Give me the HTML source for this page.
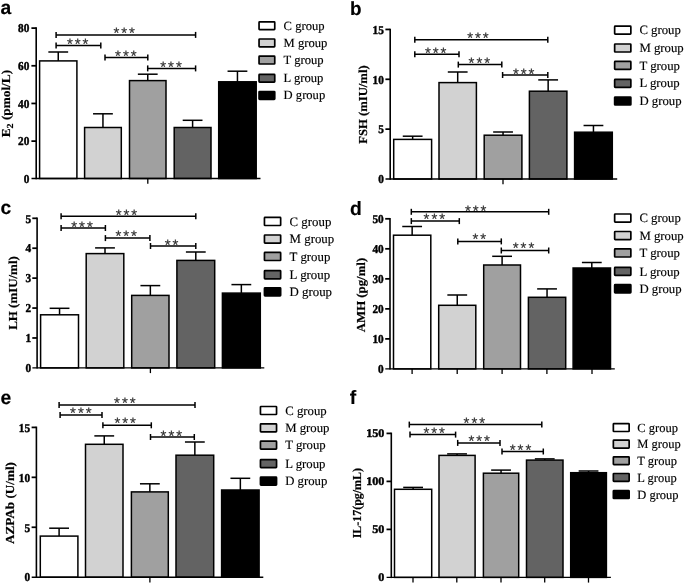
<!DOCTYPE html>
<html lang="en">
<head>
<meta charset="utf-8">
<title>Figure</title>
<style>
html,body{margin:0;padding:0;background:#fff;}
body{width:685px;height:584px;overflow:hidden;}
svg{display:block;}
</style>
</head>
<body>
<svg width="685" height="584" viewBox="0 0 685 584" text-rendering="geometricPrecision">
<rect width="685" height="584" fill="#fff"/>
<g id="panel-a">
<text x="0.5" y="14.0" font-family='"Liberation Sans", "DejaVu Sans", sans-serif' font-weight="bold" font-size="19.3" fill="#000" stroke="#000" stroke-width="0.15">a</text>
<line x1="58.25" y1="52.00" x2="58.25" y2="60.90" stroke="#000" stroke-width="1.5"/>
<line x1="48.35" y1="52.00" x2="68.15" y2="52.00" stroke="#000" stroke-width="1.5"/>
<rect x="39.60" y="60.90" width="37.30" height="117.60" fill="#ffffff" stroke="#000" stroke-width="1.5"/>
<line x1="102.95" y1="113.80" x2="102.95" y2="127.50" stroke="#000" stroke-width="1.5"/>
<line x1="93.05" y1="113.80" x2="112.85" y2="113.80" stroke="#000" stroke-width="1.5"/>
<rect x="84.60" y="127.50" width="36.70" height="51.00" fill="#d2d2d2" stroke="#000" stroke-width="1.5"/>
<line x1="147.75" y1="74.20" x2="147.75" y2="80.60" stroke="#000" stroke-width="1.5"/>
<line x1="137.85" y1="74.20" x2="157.65" y2="74.20" stroke="#000" stroke-width="1.5"/>
<rect x="129.50" y="80.60" width="36.50" height="97.90" fill="#a0a0a0" stroke="#000" stroke-width="1.5"/>
<line x1="192.60" y1="120.30" x2="192.60" y2="127.50" stroke="#000" stroke-width="1.5"/>
<line x1="182.70" y1="120.30" x2="202.50" y2="120.30" stroke="#000" stroke-width="1.5"/>
<rect x="174.20" y="127.50" width="36.80" height="51.00" fill="#636363" stroke="#000" stroke-width="1.5"/>
<line x1="237.45" y1="71.20" x2="237.45" y2="81.80" stroke="#000" stroke-width="1.5"/>
<line x1="227.55" y1="71.20" x2="247.35" y2="71.20" stroke="#000" stroke-width="1.5"/>
<rect x="218.70" y="81.80" width="37.50" height="96.70" fill="#000000" stroke="#000" stroke-width="1.5"/>
<line x1="36.20" y1="27.30" x2="36.20" y2="179.20" stroke="#000" stroke-width="1.6"/>
<line x1="31.50" y1="178.50" x2="260.50" y2="178.50" stroke="#000" stroke-width="1.4"/>
<text transform="translate(29.30,183.06) scale(0.94,1)" text-anchor="end" font-family='"Liberation Serif", "DejaVu Serif", serif' font-weight="bold" font-size="12.0" fill="#000" stroke="#000" stroke-width="0.42">0</text>
<line x1="31.40" y1="141.12" x2="36.20" y2="141.12" stroke="#000" stroke-width="1.75"/>
<text transform="translate(29.30,145.39) scale(0.94,1)" text-anchor="end" font-family='"Liberation Serif", "DejaVu Serif", serif' font-weight="bold" font-size="12.0" fill="#000" stroke="#000" stroke-width="0.42">20</text>
<line x1="31.40" y1="103.45" x2="36.20" y2="103.45" stroke="#000" stroke-width="1.75"/>
<text transform="translate(29.30,107.71) scale(0.94,1)" text-anchor="end" font-family='"Liberation Serif", "DejaVu Serif", serif' font-weight="bold" font-size="12.0" fill="#000" stroke="#000" stroke-width="0.42">40</text>
<line x1="31.40" y1="65.78" x2="36.20" y2="65.78" stroke="#000" stroke-width="1.75"/>
<text transform="translate(29.30,70.03) scale(0.94,1)" text-anchor="end" font-family='"Liberation Serif", "DejaVu Serif", serif' font-weight="bold" font-size="12.0" fill="#000" stroke="#000" stroke-width="0.42">60</text>
<line x1="31.40" y1="28.10" x2="36.20" y2="28.10" stroke="#000" stroke-width="1.75"/>
<text transform="translate(29.30,32.36) scale(0.94,1)" text-anchor="end" font-family='"Liberation Serif", "DejaVu Serif", serif' font-weight="bold" font-size="12.0" fill="#000" stroke="#000" stroke-width="0.42">80</text>
<line x1="147.80" y1="178.50" x2="147.80" y2="183.70" stroke="#000" stroke-width="1.3"/>
<text transform="translate(10.1,103.6) rotate(-90) scale(1.09,1)" text-anchor="middle" font-family='"Liberation Serif", "DejaVu Serif", serif' font-weight="bold" font-size="12.2" fill="#000" stroke="#000" stroke-width="0.2">E<tspan baseline-shift="-3" font-size="9.2">2</tspan> (pmol/L)</text>
<line x1="56.10" y1="34.90" x2="195.60" y2="34.90" stroke="#000" stroke-width="1.5"/>
<line x1="56.10" y1="31.90" x2="56.10" y2="37.90" stroke="#000" stroke-width="1.5"/>
<line x1="195.60" y1="31.90" x2="195.60" y2="37.90" stroke="#000" stroke-width="1.5"/>
<text x="125.20" y="37.65" text-anchor="middle" font-family='"Liberation Sans", "DejaVu Sans", sans-serif' font-size="15" letter-spacing="1.95" fill="#333" stroke="#333" stroke-width="0.22">***</text>
<line x1="56.10" y1="45.40" x2="100.80" y2="45.40" stroke="#000" stroke-width="1.5"/>
<line x1="56.10" y1="42.40" x2="56.10" y2="48.40" stroke="#000" stroke-width="1.5"/>
<line x1="100.80" y1="42.40" x2="100.80" y2="48.40" stroke="#000" stroke-width="1.5"/>
<text x="78.70" y="48.90" text-anchor="middle" font-family='"Liberation Sans", "DejaVu Sans", sans-serif' font-size="15" letter-spacing="1.95" fill="#333" stroke="#333" stroke-width="0.22">***</text>
<line x1="105.00" y1="57.50" x2="147.80" y2="57.50" stroke="#000" stroke-width="1.5"/>
<line x1="105.00" y1="54.50" x2="105.00" y2="60.50" stroke="#000" stroke-width="1.5"/>
<line x1="147.80" y1="54.50" x2="147.80" y2="60.50" stroke="#000" stroke-width="1.5"/>
<text x="126.80" y="60.65" text-anchor="middle" font-family='"Liberation Sans", "DejaVu Sans", sans-serif' font-size="15" letter-spacing="1.95" fill="#333" stroke="#333" stroke-width="0.22">***</text>
<line x1="147.70" y1="68.40" x2="195.60" y2="68.40" stroke="#000" stroke-width="1.5"/>
<line x1="147.70" y1="65.40" x2="147.70" y2="71.40" stroke="#000" stroke-width="1.5"/>
<line x1="195.60" y1="65.40" x2="195.60" y2="71.40" stroke="#000" stroke-width="1.5"/>
<text x="172.00" y="71.75" text-anchor="middle" font-family='"Liberation Sans", "DejaVu Sans", sans-serif' font-size="15" letter-spacing="1.95" fill="#333" stroke="#333" stroke-width="0.22">***</text>
<rect x="259.05" y="21.80" width="15.70" height="7.80" rx="0.6" fill="#ffffff" stroke="#000" stroke-width="1.7"/>
<text x="283.60" y="29.70" font-family='"Liberation Serif", "DejaVu Serif", serif' font-size="12.6" fill="#000" stroke="#000" stroke-width="0.15">C group</text>
<rect x="259.05" y="39.00" width="15.70" height="7.80" rx="0.6" fill="#d2d2d2" stroke="#000" stroke-width="1.7"/>
<text x="283.60" y="46.90" font-family='"Liberation Serif", "DejaVu Serif", serif' font-size="12.6" fill="#000" stroke="#000" stroke-width="0.15">M group</text>
<rect x="259.05" y="56.20" width="15.70" height="7.80" rx="0.6" fill="#a0a0a0" stroke="#000" stroke-width="1.7"/>
<text x="283.60" y="64.10" font-family='"Liberation Serif", "DejaVu Serif", serif' font-size="12.6" fill="#000" stroke="#000" stroke-width="0.15">T group</text>
<rect x="259.05" y="74.40" width="15.70" height="7.80" rx="0.6" fill="#636363" stroke="#000" stroke-width="1.7"/>
<text x="283.60" y="82.30" font-family='"Liberation Serif", "DejaVu Serif", serif' font-size="12.6" fill="#000" stroke="#000" stroke-width="0.15">L group</text>
<rect x="259.05" y="91.50" width="15.70" height="7.80" rx="0.6" fill="#000000" stroke="#000" stroke-width="1.7"/>
<text x="283.60" y="99.40" font-family='"Liberation Serif", "DejaVu Serif", serif' font-size="12.6" fill="#000" stroke="#000" stroke-width="0.15">D group</text>
</g>
<g id="panel-b">
<text x="350.0" y="14.7" font-family='"Liberation Sans", "DejaVu Sans", sans-serif' font-weight="bold" font-size="18.9" fill="#000" stroke="#000" stroke-width="0.15">b</text>
<line x1="412.65" y1="136.20" x2="412.65" y2="139.40" stroke="#000" stroke-width="1.5"/>
<line x1="402.75" y1="136.20" x2="422.55" y2="136.20" stroke="#000" stroke-width="1.5"/>
<rect x="393.70" y="139.40" width="37.90" height="39.60" fill="#ffffff" stroke="#000" stroke-width="1.5"/>
<line x1="457.70" y1="72.00" x2="457.70" y2="82.60" stroke="#000" stroke-width="1.5"/>
<line x1="447.80" y1="72.00" x2="467.60" y2="72.00" stroke="#000" stroke-width="1.5"/>
<rect x="439.00" y="82.60" width="37.40" height="96.40" fill="#d2d2d2" stroke="#000" stroke-width="1.5"/>
<line x1="503.05" y1="132.00" x2="503.05" y2="135.20" stroke="#000" stroke-width="1.5"/>
<line x1="493.15" y1="132.00" x2="512.95" y2="132.00" stroke="#000" stroke-width="1.5"/>
<rect x="484.20" y="135.20" width="37.70" height="43.80" fill="#a0a0a0" stroke="#000" stroke-width="1.5"/>
<line x1="548.15" y1="79.90" x2="548.15" y2="91.20" stroke="#000" stroke-width="1.5"/>
<line x1="538.25" y1="79.90" x2="558.05" y2="79.90" stroke="#000" stroke-width="1.5"/>
<rect x="529.40" y="91.20" width="37.50" height="87.80" fill="#636363" stroke="#000" stroke-width="1.5"/>
<line x1="593.45" y1="125.50" x2="593.45" y2="132.20" stroke="#000" stroke-width="1.5"/>
<line x1="583.55" y1="125.50" x2="603.35" y2="125.50" stroke="#000" stroke-width="1.5"/>
<rect x="574.60" y="132.20" width="37.70" height="46.80" fill="#000000" stroke="#000" stroke-width="1.5"/>
<line x1="390.20" y1="28.65" x2="390.20" y2="179.70" stroke="#000" stroke-width="1.6"/>
<line x1="385.50" y1="179.00" x2="617.20" y2="179.00" stroke="#000" stroke-width="1.4"/>
<text transform="translate(383.90,183.26) scale(0.94,1)" text-anchor="end" font-family='"Liberation Serif", "DejaVu Serif", serif' font-weight="bold" font-size="12.0" fill="#000" stroke="#000" stroke-width="0.42">0</text>
<line x1="385.40" y1="129.15" x2="390.20" y2="129.15" stroke="#000" stroke-width="1.75"/>
<text transform="translate(383.90,133.41) scale(0.94,1)" text-anchor="end" font-family='"Liberation Serif", "DejaVu Serif", serif' font-weight="bold" font-size="12.0" fill="#000" stroke="#000" stroke-width="0.42">5</text>
<line x1="385.40" y1="79.30" x2="390.20" y2="79.30" stroke="#000" stroke-width="1.75"/>
<text transform="translate(383.90,83.56) scale(0.94,1)" text-anchor="end" font-family='"Liberation Serif", "DejaVu Serif", serif' font-weight="bold" font-size="12.0" fill="#000" stroke="#000" stroke-width="0.42">10</text>
<line x1="385.40" y1="29.45" x2="390.20" y2="29.45" stroke="#000" stroke-width="1.75"/>
<text transform="translate(383.90,33.71) scale(0.94,1)" text-anchor="end" font-family='"Liberation Serif", "DejaVu Serif", serif' font-weight="bold" font-size="12.0" fill="#000" stroke="#000" stroke-width="0.42">15</text>
<line x1="503.00" y1="179.00" x2="503.00" y2="184.20" stroke="#000" stroke-width="1.3"/>
<text transform="translate(366.9,104.6) rotate(-90) scale(1.04,1)" text-anchor="middle" font-family='"Liberation Serif", "DejaVu Serif", serif' font-weight="bold" font-size="12.2" fill="#000" stroke="#000" stroke-width="0.2">FSH (mIU/ml)</text>
<line x1="414.80" y1="39.70" x2="547.80" y2="39.70" stroke="#000" stroke-width="1.5"/>
<line x1="414.80" y1="36.70" x2="414.80" y2="42.70" stroke="#000" stroke-width="1.5"/>
<line x1="547.80" y1="36.70" x2="547.80" y2="42.70" stroke="#000" stroke-width="1.5"/>
<text x="478.90" y="42.60" text-anchor="middle" font-family='"Liberation Sans", "DejaVu Sans", sans-serif' font-size="15" letter-spacing="1.95" fill="#333" stroke="#333" stroke-width="0.22">***</text>
<line x1="414.80" y1="54.20" x2="459.00" y2="54.20" stroke="#000" stroke-width="1.5"/>
<line x1="414.80" y1="51.20" x2="414.80" y2="57.20" stroke="#000" stroke-width="1.5"/>
<line x1="459.00" y1="51.20" x2="459.00" y2="57.20" stroke="#000" stroke-width="1.5"/>
<text x="436.70" y="57.70" text-anchor="middle" font-family='"Liberation Sans", "DejaVu Sans", sans-serif' font-size="15" letter-spacing="1.95" fill="#333" stroke="#333" stroke-width="0.22">***</text>
<line x1="458.30" y1="64.60" x2="501.80" y2="64.60" stroke="#000" stroke-width="1.5"/>
<line x1="458.30" y1="61.60" x2="458.30" y2="67.60" stroke="#000" stroke-width="1.5"/>
<line x1="501.80" y1="61.60" x2="501.80" y2="67.60" stroke="#000" stroke-width="1.5"/>
<text x="480.30" y="68.25" text-anchor="middle" font-family='"Liberation Sans", "DejaVu Sans", sans-serif' font-size="15" letter-spacing="1.95" fill="#333" stroke="#333" stroke-width="0.22">***</text>
<line x1="502.60" y1="75.00" x2="547.80" y2="75.00" stroke="#000" stroke-width="1.5"/>
<line x1="502.60" y1="72.00" x2="502.60" y2="78.00" stroke="#000" stroke-width="1.5"/>
<line x1="547.80" y1="72.00" x2="547.80" y2="78.00" stroke="#000" stroke-width="1.5"/>
<text x="524.70" y="78.65" text-anchor="middle" font-family='"Liberation Sans", "DejaVu Sans", sans-serif' font-size="15" letter-spacing="1.95" fill="#333" stroke="#333" stroke-width="0.22">***</text>
<rect x="614.65" y="26.20" width="16.20" height="8.00" rx="0.6" fill="#ffffff" stroke="#000" stroke-width="1.7"/>
<text x="639.40" y="34.30" font-family='"Liberation Serif", "DejaVu Serif", serif' font-size="12.75" fill="#000" stroke="#000" stroke-width="0.15">C group</text>
<rect x="614.65" y="44.00" width="16.20" height="8.00" rx="0.6" fill="#d2d2d2" stroke="#000" stroke-width="1.7"/>
<text x="639.40" y="52.10" font-family='"Liberation Serif", "DejaVu Serif", serif' font-size="12.75" fill="#000" stroke="#000" stroke-width="0.15">M group</text>
<rect x="614.65" y="61.40" width="16.20" height="8.00" rx="0.6" fill="#a0a0a0" stroke="#000" stroke-width="1.7"/>
<text x="639.40" y="69.50" font-family='"Liberation Serif", "DejaVu Serif", serif' font-size="12.75" fill="#000" stroke="#000" stroke-width="0.15">T group</text>
<rect x="614.65" y="79.30" width="16.20" height="8.00" rx="0.6" fill="#636363" stroke="#000" stroke-width="1.7"/>
<text x="639.40" y="87.40" font-family='"Liberation Serif", "DejaVu Serif", serif' font-size="12.75" fill="#000" stroke="#000" stroke-width="0.15">L group</text>
<rect x="614.65" y="97.00" width="16.20" height="8.00" rx="0.6" fill="#000000" stroke="#000" stroke-width="1.7"/>
<text x="639.40" y="105.10" font-family='"Liberation Serif", "DejaVu Serif", serif' font-size="12.75" fill="#000" stroke="#000" stroke-width="0.15">D group</text>
</g>
<g id="panel-c">
<text x="0.5" y="214.0" font-family='"Liberation Sans", "DejaVu Sans", sans-serif' font-weight="bold" font-size="19.3" fill="#000" stroke="#000" stroke-width="0.15">c</text>
<line x1="59.55" y1="308.30" x2="59.55" y2="314.80" stroke="#000" stroke-width="1.5"/>
<line x1="49.65" y1="308.30" x2="69.45" y2="308.30" stroke="#000" stroke-width="1.5"/>
<rect x="40.60" y="314.80" width="37.90" height="53.10" fill="#ffffff" stroke="#000" stroke-width="1.5"/>
<line x1="105.00" y1="247.90" x2="105.00" y2="253.60" stroke="#000" stroke-width="1.5"/>
<line x1="95.10" y1="247.90" x2="114.90" y2="247.90" stroke="#000" stroke-width="1.5"/>
<rect x="86.20" y="253.60" width="37.60" height="114.30" fill="#d2d2d2" stroke="#000" stroke-width="1.5"/>
<line x1="150.35" y1="285.60" x2="150.35" y2="295.40" stroke="#000" stroke-width="1.5"/>
<line x1="140.45" y1="285.60" x2="160.25" y2="285.60" stroke="#000" stroke-width="1.5"/>
<rect x="131.70" y="295.40" width="37.30" height="72.50" fill="#a0a0a0" stroke="#000" stroke-width="1.5"/>
<line x1="195.80" y1="252.00" x2="195.80" y2="260.40" stroke="#000" stroke-width="1.5"/>
<line x1="185.90" y1="252.00" x2="205.70" y2="252.00" stroke="#000" stroke-width="1.5"/>
<rect x="176.90" y="260.40" width="37.80" height="107.50" fill="#636363" stroke="#000" stroke-width="1.5"/>
<line x1="241.35" y1="284.60" x2="241.35" y2="293.10" stroke="#000" stroke-width="1.5"/>
<line x1="231.45" y1="284.60" x2="251.25" y2="284.60" stroke="#000" stroke-width="1.5"/>
<rect x="222.40" y="293.10" width="37.90" height="74.80" fill="#000000" stroke="#000" stroke-width="1.5"/>
<line x1="37.10" y1="217.50" x2="37.10" y2="368.60" stroke="#000" stroke-width="1.6"/>
<line x1="32.40" y1="367.90" x2="264.30" y2="367.90" stroke="#000" stroke-width="1.4"/>
<text transform="translate(31.20,372.16) scale(0.94,1)" text-anchor="end" font-family='"Liberation Serif", "DejaVu Serif", serif' font-weight="bold" font-size="12.0" fill="#000" stroke="#000" stroke-width="0.42">0</text>
<line x1="32.30" y1="337.98" x2="37.10" y2="337.98" stroke="#000" stroke-width="1.75"/>
<text transform="translate(31.20,342.24) scale(0.94,1)" text-anchor="end" font-family='"Liberation Serif", "DejaVu Serif", serif' font-weight="bold" font-size="12.0" fill="#000" stroke="#000" stroke-width="0.42">1</text>
<line x1="32.30" y1="308.06" x2="37.10" y2="308.06" stroke="#000" stroke-width="1.75"/>
<text transform="translate(31.20,312.32) scale(0.94,1)" text-anchor="end" font-family='"Liberation Serif", "DejaVu Serif", serif' font-weight="bold" font-size="12.0" fill="#000" stroke="#000" stroke-width="0.42">2</text>
<line x1="32.30" y1="278.14" x2="37.10" y2="278.14" stroke="#000" stroke-width="1.75"/>
<text transform="translate(31.20,282.40) scale(0.94,1)" text-anchor="end" font-family='"Liberation Serif", "DejaVu Serif", serif' font-weight="bold" font-size="12.0" fill="#000" stroke="#000" stroke-width="0.42">3</text>
<line x1="32.30" y1="248.22" x2="37.10" y2="248.22" stroke="#000" stroke-width="1.75"/>
<text transform="translate(31.20,252.48) scale(0.94,1)" text-anchor="end" font-family='"Liberation Serif", "DejaVu Serif", serif' font-weight="bold" font-size="12.0" fill="#000" stroke="#000" stroke-width="0.42">4</text>
<line x1="32.30" y1="218.30" x2="37.10" y2="218.30" stroke="#000" stroke-width="1.75"/>
<text transform="translate(31.20,222.56) scale(0.94,1)" text-anchor="end" font-family='"Liberation Serif", "DejaVu Serif", serif' font-weight="bold" font-size="12.0" fill="#000" stroke="#000" stroke-width="0.42">5</text>
<line x1="150.40" y1="367.90" x2="150.40" y2="373.10" stroke="#000" stroke-width="1.3"/>
<text transform="translate(16.7,293) rotate(-90) scale(1.06,1)" text-anchor="middle" font-family='"Liberation Serif", "DejaVu Serif", serif' font-weight="bold" font-size="12.2" fill="#000" stroke="#000" stroke-width="0.2">LH (mIU/ml)</text>
<line x1="61.10" y1="216.20" x2="195.80" y2="216.20" stroke="#000" stroke-width="1.5"/>
<line x1="61.10" y1="213.20" x2="61.10" y2="219.20" stroke="#000" stroke-width="1.5"/>
<line x1="195.80" y1="213.20" x2="195.80" y2="219.20" stroke="#000" stroke-width="1.5"/>
<text x="127.40" y="219.55" text-anchor="middle" font-family='"Liberation Sans", "DejaVu Sans", sans-serif' font-size="15" letter-spacing="1.95" fill="#333" stroke="#333" stroke-width="0.22">***</text>
<line x1="61.10" y1="228.00" x2="105.40" y2="228.00" stroke="#000" stroke-width="1.5"/>
<line x1="61.10" y1="225.00" x2="61.10" y2="231.00" stroke="#000" stroke-width="1.5"/>
<line x1="105.40" y1="225.00" x2="105.40" y2="231.00" stroke="#000" stroke-width="1.5"/>
<text x="83.00" y="231.50" text-anchor="middle" font-family='"Liberation Sans", "DejaVu Sans", sans-serif' font-size="15" letter-spacing="1.95" fill="#333" stroke="#333" stroke-width="0.22">***</text>
<line x1="105.40" y1="238.10" x2="149.90" y2="238.10" stroke="#000" stroke-width="1.5"/>
<line x1="105.40" y1="235.10" x2="105.40" y2="241.10" stroke="#000" stroke-width="1.5"/>
<line x1="149.90" y1="235.10" x2="149.90" y2="241.10" stroke="#000" stroke-width="1.5"/>
<text x="127.20" y="241.30" text-anchor="middle" font-family='"Liberation Sans", "DejaVu Sans", sans-serif' font-size="15" letter-spacing="1.95" fill="#333" stroke="#333" stroke-width="0.22">***</text>
<line x1="150.50" y1="246.00" x2="195.80" y2="246.00" stroke="#000" stroke-width="1.5"/>
<line x1="150.50" y1="243.00" x2="150.50" y2="249.00" stroke="#000" stroke-width="1.5"/>
<line x1="195.80" y1="243.00" x2="195.80" y2="249.00" stroke="#000" stroke-width="1.5"/>
<text x="172.60" y="249.95" text-anchor="middle" font-family='"Liberation Sans", "DejaVu Sans", sans-serif' font-size="15" letter-spacing="1.95" fill="#333" stroke="#333" stroke-width="0.22">**</text>
<rect x="264.45" y="217.40" width="16.20" height="8.10" rx="0.6" fill="#ffffff" stroke="#000" stroke-width="1.7"/>
<text x="289.60" y="225.60" font-family='"Liberation Serif", "DejaVu Serif", serif' font-size="12.85" fill="#000" stroke="#000" stroke-width="0.15">C group</text>
<rect x="264.45" y="235.00" width="16.20" height="8.10" rx="0.6" fill="#d2d2d2" stroke="#000" stroke-width="1.7"/>
<text x="289.60" y="243.20" font-family='"Liberation Serif", "DejaVu Serif", serif' font-size="12.85" fill="#000" stroke="#000" stroke-width="0.15">M group</text>
<rect x="264.45" y="252.40" width="16.20" height="8.10" rx="0.6" fill="#a0a0a0" stroke="#000" stroke-width="1.7"/>
<text x="289.60" y="260.60" font-family='"Liberation Serif", "DejaVu Serif", serif' font-size="12.85" fill="#000" stroke="#000" stroke-width="0.15">T group</text>
<rect x="264.45" y="270.70" width="16.20" height="8.10" rx="0.6" fill="#636363" stroke="#000" stroke-width="1.7"/>
<text x="289.60" y="278.90" font-family='"Liberation Serif", "DejaVu Serif", serif' font-size="12.85" fill="#000" stroke="#000" stroke-width="0.15">L group</text>
<rect x="264.45" y="287.80" width="16.20" height="8.10" rx="0.6" fill="#000000" stroke="#000" stroke-width="1.7"/>
<text x="289.60" y="296.00" font-family='"Liberation Serif", "DejaVu Serif", serif' font-size="12.85" fill="#000" stroke="#000" stroke-width="0.15">D group</text>
</g>
<g id="panel-d">
<text x="350.1" y="214.6" font-family='"Liberation Sans", "DejaVu Sans", sans-serif' font-weight="bold" font-size="19.3" fill="#000" stroke="#000" stroke-width="0.15">d</text>
<line x1="412.15" y1="226.50" x2="412.15" y2="235.20" stroke="#000" stroke-width="1.5"/>
<line x1="402.25" y1="226.50" x2="422.05" y2="226.50" stroke="#000" stroke-width="1.5"/>
<rect x="393.50" y="235.20" width="37.30" height="133.70" fill="#ffffff" stroke="#000" stroke-width="1.5"/>
<line x1="457.25" y1="295.00" x2="457.25" y2="305.30" stroke="#000" stroke-width="1.5"/>
<line x1="447.35" y1="295.00" x2="467.15" y2="295.00" stroke="#000" stroke-width="1.5"/>
<rect x="438.70" y="305.30" width="37.10" height="63.60" fill="#d2d2d2" stroke="#000" stroke-width="1.5"/>
<line x1="502.10" y1="256.30" x2="502.10" y2="265.00" stroke="#000" stroke-width="1.5"/>
<line x1="492.20" y1="256.30" x2="512.00" y2="256.30" stroke="#000" stroke-width="1.5"/>
<rect x="483.70" y="265.00" width="36.80" height="103.90" fill="#a0a0a0" stroke="#000" stroke-width="1.5"/>
<line x1="547.05" y1="288.90" x2="547.05" y2="297.30" stroke="#000" stroke-width="1.5"/>
<line x1="537.15" y1="288.90" x2="556.95" y2="288.90" stroke="#000" stroke-width="1.5"/>
<rect x="528.40" y="297.30" width="37.30" height="71.60" fill="#636363" stroke="#000" stroke-width="1.5"/>
<line x1="591.80" y1="262.50" x2="591.80" y2="268.00" stroke="#000" stroke-width="1.5"/>
<line x1="581.90" y1="262.50" x2="601.70" y2="262.50" stroke="#000" stroke-width="1.5"/>
<rect x="573.10" y="268.00" width="37.40" height="100.90" fill="#000000" stroke="#000" stroke-width="1.5"/>
<line x1="390.00" y1="218.00" x2="390.00" y2="369.60" stroke="#000" stroke-width="1.6"/>
<line x1="385.30" y1="368.90" x2="614.80" y2="368.90" stroke="#000" stroke-width="1.4"/>
<text transform="translate(383.70,373.16) scale(0.94,1)" text-anchor="end" font-family='"Liberation Serif", "DejaVu Serif", serif' font-weight="bold" font-size="12.0" fill="#000" stroke="#000" stroke-width="0.42">0</text>
<line x1="385.20" y1="338.88" x2="390.00" y2="338.88" stroke="#000" stroke-width="1.75"/>
<text transform="translate(383.70,343.14) scale(0.94,1)" text-anchor="end" font-family='"Liberation Serif", "DejaVu Serif", serif' font-weight="bold" font-size="12.0" fill="#000" stroke="#000" stroke-width="0.42">10</text>
<line x1="385.20" y1="308.86" x2="390.00" y2="308.86" stroke="#000" stroke-width="1.75"/>
<text transform="translate(383.70,313.12) scale(0.94,1)" text-anchor="end" font-family='"Liberation Serif", "DejaVu Serif", serif' font-weight="bold" font-size="12.0" fill="#000" stroke="#000" stroke-width="0.42">20</text>
<line x1="385.20" y1="278.84" x2="390.00" y2="278.84" stroke="#000" stroke-width="1.75"/>
<text transform="translate(383.70,283.10) scale(0.94,1)" text-anchor="end" font-family='"Liberation Serif", "DejaVu Serif", serif' font-weight="bold" font-size="12.0" fill="#000" stroke="#000" stroke-width="0.42">30</text>
<line x1="385.20" y1="248.82" x2="390.00" y2="248.82" stroke="#000" stroke-width="1.75"/>
<text transform="translate(383.70,253.08) scale(0.94,1)" text-anchor="end" font-family='"Liberation Serif", "DejaVu Serif", serif' font-weight="bold" font-size="12.0" fill="#000" stroke="#000" stroke-width="0.42">40</text>
<line x1="385.20" y1="218.80" x2="390.00" y2="218.80" stroke="#000" stroke-width="1.75"/>
<text transform="translate(383.70,223.06) scale(0.94,1)" text-anchor="end" font-family='"Liberation Serif", "DejaVu Serif", serif' font-weight="bold" font-size="12.0" fill="#000" stroke="#000" stroke-width="0.42">50</text>
<line x1="412.10" y1="368.90" x2="412.10" y2="374.10" stroke="#000" stroke-width="1.3"/>
<line x1="457.20" y1="368.90" x2="457.20" y2="374.10" stroke="#000" stroke-width="1.3"/>
<line x1="502.10" y1="368.90" x2="502.10" y2="374.10" stroke="#000" stroke-width="1.3"/>
<line x1="546.90" y1="368.90" x2="546.90" y2="374.10" stroke="#000" stroke-width="1.3"/>
<line x1="592.00" y1="368.90" x2="592.00" y2="374.10" stroke="#000" stroke-width="1.3"/>
<text transform="translate(365,295) rotate(-90) scale(1.05,1)" text-anchor="middle" font-family='"Liberation Serif", "DejaVu Serif", serif' font-weight="bold" font-size="12.2" fill="#000" stroke="#000" stroke-width="0.2">AMH (pg/ml)</text>
<line x1="411.30" y1="211.80" x2="548.70" y2="211.80" stroke="#000" stroke-width="1.5"/>
<line x1="411.30" y1="208.80" x2="411.30" y2="214.80" stroke="#000" stroke-width="1.5"/>
<line x1="548.70" y1="208.80" x2="548.70" y2="214.80" stroke="#000" stroke-width="1.5"/>
<text x="476.60" y="215.75" text-anchor="middle" font-family='"Liberation Sans", "DejaVu Sans", sans-serif' font-size="15" letter-spacing="1.95" fill="#333" stroke="#333" stroke-width="0.22">***</text>
<line x1="411.30" y1="221.10" x2="459.30" y2="221.10" stroke="#000" stroke-width="1.5"/>
<line x1="411.30" y1="218.10" x2="411.30" y2="224.10" stroke="#000" stroke-width="1.5"/>
<line x1="459.30" y1="218.10" x2="459.30" y2="224.10" stroke="#000" stroke-width="1.5"/>
<text x="435.30" y="223.85" text-anchor="middle" font-family='"Liberation Sans", "DejaVu Sans", sans-serif' font-size="15" letter-spacing="1.95" fill="#333" stroke="#333" stroke-width="0.22">***</text>
<line x1="457.80" y1="241.40" x2="501.30" y2="241.40" stroke="#000" stroke-width="1.5"/>
<line x1="457.80" y1="238.40" x2="457.80" y2="244.40" stroke="#000" stroke-width="1.5"/>
<line x1="501.30" y1="238.40" x2="501.30" y2="244.40" stroke="#000" stroke-width="1.5"/>
<text x="480.30" y="243.90" text-anchor="middle" font-family='"Liberation Sans", "DejaVu Sans", sans-serif' font-size="15" letter-spacing="1.95" fill="#333" stroke="#333" stroke-width="0.22">**</text>
<line x1="501.30" y1="250.50" x2="548.70" y2="250.50" stroke="#000" stroke-width="1.5"/>
<line x1="501.30" y1="247.50" x2="501.30" y2="253.50" stroke="#000" stroke-width="1.5"/>
<line x1="548.70" y1="247.50" x2="548.70" y2="253.50" stroke="#000" stroke-width="1.5"/>
<text x="524.50" y="253.00" text-anchor="middle" font-family='"Liberation Sans", "DejaVu Sans", sans-serif' font-size="15" letter-spacing="1.95" fill="#333" stroke="#333" stroke-width="0.22">***</text>
<rect x="614.65" y="214.00" width="16.20" height="8.10" rx="0.6" fill="#ffffff" stroke="#000" stroke-width="1.7"/>
<text x="639.40" y="222.20" font-family='"Liberation Serif", "DejaVu Serif", serif' font-size="12.75" fill="#000" stroke="#000" stroke-width="0.15">C group</text>
<rect x="614.65" y="231.50" width="16.20" height="8.10" rx="0.6" fill="#d2d2d2" stroke="#000" stroke-width="1.7"/>
<text x="639.40" y="239.70" font-family='"Liberation Serif", "DejaVu Serif", serif' font-size="12.75" fill="#000" stroke="#000" stroke-width="0.15">M group</text>
<rect x="614.65" y="248.90" width="16.20" height="8.10" rx="0.6" fill="#a0a0a0" stroke="#000" stroke-width="1.7"/>
<text x="639.40" y="257.10" font-family='"Liberation Serif", "DejaVu Serif", serif' font-size="12.75" fill="#000" stroke="#000" stroke-width="0.15">T group</text>
<rect x="614.65" y="267.30" width="16.20" height="8.10" rx="0.6" fill="#636363" stroke="#000" stroke-width="1.7"/>
<text x="639.40" y="275.50" font-family='"Liberation Serif", "DejaVu Serif", serif' font-size="12.75" fill="#000" stroke="#000" stroke-width="0.15">L group</text>
<rect x="614.65" y="284.70" width="16.20" height="8.10" rx="0.6" fill="#000000" stroke="#000" stroke-width="1.7"/>
<text x="639.40" y="292.90" font-family='"Liberation Serif", "DejaVu Serif", serif' font-size="12.75" fill="#000" stroke="#000" stroke-width="0.15">D group</text>
</g>
<g id="panel-e">
<text x="0.5" y="404.0" font-family='"Liberation Sans", "DejaVu Sans", sans-serif' font-weight="bold" font-size="19.3" fill="#000" stroke="#000" stroke-width="0.15">e</text>
<line x1="59.10" y1="528.20" x2="59.10" y2="536.10" stroke="#000" stroke-width="1.5"/>
<line x1="49.20" y1="528.20" x2="69.00" y2="528.20" stroke="#000" stroke-width="1.5"/>
<rect x="40.30" y="536.10" width="37.60" height="41.10" fill="#ffffff" stroke="#000" stroke-width="1.5"/>
<line x1="104.25" y1="435.90" x2="104.25" y2="444.30" stroke="#000" stroke-width="1.5"/>
<line x1="94.35" y1="435.90" x2="114.15" y2="435.90" stroke="#000" stroke-width="1.5"/>
<rect x="85.50" y="444.30" width="37.50" height="132.90" fill="#d2d2d2" stroke="#000" stroke-width="1.5"/>
<line x1="149.85" y1="483.80" x2="149.85" y2="491.90" stroke="#000" stroke-width="1.5"/>
<line x1="139.95" y1="483.80" x2="159.75" y2="483.80" stroke="#000" stroke-width="1.5"/>
<rect x="131.40" y="491.90" width="36.90" height="85.30" fill="#a0a0a0" stroke="#000" stroke-width="1.5"/>
<line x1="194.85" y1="442.00" x2="194.85" y2="455.20" stroke="#000" stroke-width="1.5"/>
<line x1="184.95" y1="442.00" x2="204.75" y2="442.00" stroke="#000" stroke-width="1.5"/>
<rect x="176.00" y="455.20" width="37.70" height="122.00" fill="#636363" stroke="#000" stroke-width="1.5"/>
<line x1="240.35" y1="478.30" x2="240.35" y2="490.00" stroke="#000" stroke-width="1.5"/>
<line x1="230.45" y1="478.30" x2="250.25" y2="478.30" stroke="#000" stroke-width="1.5"/>
<rect x="221.60" y="490.00" width="37.50" height="87.20" fill="#000000" stroke="#000" stroke-width="1.5"/>
<line x1="36.40" y1="426.60" x2="36.40" y2="577.90" stroke="#000" stroke-width="1.6"/>
<line x1="31.70" y1="577.20" x2="263.30" y2="577.20" stroke="#000" stroke-width="1.4"/>
<text transform="translate(30.10,581.46) scale(0.94,1)" text-anchor="end" font-family='"Liberation Serif", "DejaVu Serif", serif' font-weight="bold" font-size="12.0" fill="#000" stroke="#000" stroke-width="0.42">0</text>
<line x1="31.60" y1="527.27" x2="36.40" y2="527.27" stroke="#000" stroke-width="1.75"/>
<text transform="translate(30.10,531.53) scale(0.94,1)" text-anchor="end" font-family='"Liberation Serif", "DejaVu Serif", serif' font-weight="bold" font-size="12.0" fill="#000" stroke="#000" stroke-width="0.42">5</text>
<line x1="31.60" y1="477.33" x2="36.40" y2="477.33" stroke="#000" stroke-width="1.75"/>
<text transform="translate(30.10,481.59) scale(0.94,1)" text-anchor="end" font-family='"Liberation Serif", "DejaVu Serif", serif' font-weight="bold" font-size="12.0" fill="#000" stroke="#000" stroke-width="0.42">10</text>
<line x1="31.60" y1="427.40" x2="36.40" y2="427.40" stroke="#000" stroke-width="1.75"/>
<text transform="translate(30.10,431.66) scale(0.94,1)" text-anchor="end" font-family='"Liberation Serif", "DejaVu Serif", serif' font-weight="bold" font-size="12.0" fill="#000" stroke="#000" stroke-width="0.42">15</text>
<line x1="149.90" y1="577.20" x2="149.90" y2="582.40" stroke="#000" stroke-width="1.3"/>
<text transform="translate(13.8,503) rotate(-90) scale(1.08,1)" text-anchor="middle" font-family='"Liberation Serif", "DejaVu Serif", serif' font-weight="bold" font-size="12.2" fill="#000" stroke="#000" stroke-width="0.2">AZPAb (U/ml)</text>
<line x1="59.10" y1="405.00" x2="195.00" y2="405.00" stroke="#000" stroke-width="1.5"/>
<line x1="59.10" y1="402.00" x2="59.10" y2="408.00" stroke="#000" stroke-width="1.5"/>
<line x1="195.00" y1="402.00" x2="195.00" y2="408.00" stroke="#000" stroke-width="1.5"/>
<text x="125.80" y="408.20" text-anchor="middle" font-family='"Liberation Sans", "DejaVu Sans", sans-serif' font-size="15" letter-spacing="1.95" fill="#333" stroke="#333" stroke-width="0.22">***</text>
<line x1="60.10" y1="414.90" x2="102.00" y2="414.90" stroke="#000" stroke-width="1.5"/>
<line x1="60.10" y1="411.90" x2="60.10" y2="417.90" stroke="#000" stroke-width="1.5"/>
<line x1="102.00" y1="411.90" x2="102.00" y2="417.90" stroke="#000" stroke-width="1.5"/>
<text x="81.80" y="418.10" text-anchor="middle" font-family='"Liberation Sans", "DejaVu Sans", sans-serif' font-size="15" letter-spacing="1.95" fill="#333" stroke="#333" stroke-width="0.22">***</text>
<line x1="102.90" y1="425.30" x2="151.30" y2="425.30" stroke="#000" stroke-width="1.5"/>
<line x1="102.90" y1="422.30" x2="102.90" y2="428.30" stroke="#000" stroke-width="1.5"/>
<line x1="151.30" y1="422.30" x2="151.30" y2="428.30" stroke="#000" stroke-width="1.5"/>
<text x="126.20" y="427.80" text-anchor="middle" font-family='"Liberation Sans", "DejaVu Sans", sans-serif' font-size="15" letter-spacing="1.95" fill="#333" stroke="#333" stroke-width="0.22">***</text>
<line x1="150.50" y1="437.00" x2="194.30" y2="437.00" stroke="#000" stroke-width="1.5"/>
<line x1="150.50" y1="434.00" x2="150.50" y2="440.00" stroke="#000" stroke-width="1.5"/>
<line x1="194.30" y1="434.00" x2="194.30" y2="440.00" stroke="#000" stroke-width="1.5"/>
<text x="172.30" y="440.80" text-anchor="middle" font-family='"Liberation Sans", "DejaVu Sans", sans-serif' font-size="15" letter-spacing="1.95" fill="#333" stroke="#333" stroke-width="0.22">***</text>
<rect x="260.45" y="406.50" width="16.10" height="8.00" rx="0.6" fill="#ffffff" stroke="#000" stroke-width="1.7"/>
<text x="285.20" y="414.60" font-family='"Liberation Serif", "DejaVu Serif", serif' font-size="12.75" fill="#000" stroke="#000" stroke-width="0.15">C group</text>
<rect x="260.45" y="423.90" width="16.10" height="8.00" rx="0.6" fill="#d2d2d2" stroke="#000" stroke-width="1.7"/>
<text x="285.20" y="432.00" font-family='"Liberation Serif", "DejaVu Serif", serif' font-size="12.75" fill="#000" stroke="#000" stroke-width="0.15">M group</text>
<rect x="260.45" y="441.20" width="16.10" height="8.00" rx="0.6" fill="#a0a0a0" stroke="#000" stroke-width="1.7"/>
<text x="285.20" y="449.30" font-family='"Liberation Serif", "DejaVu Serif", serif' font-size="12.75" fill="#000" stroke="#000" stroke-width="0.15">T group</text>
<rect x="260.45" y="459.60" width="16.10" height="8.00" rx="0.6" fill="#636363" stroke="#000" stroke-width="1.7"/>
<text x="285.20" y="467.70" font-family='"Liberation Serif", "DejaVu Serif", serif' font-size="12.75" fill="#000" stroke="#000" stroke-width="0.15">L group</text>
<rect x="260.45" y="477.20" width="16.10" height="8.00" rx="0.6" fill="#000000" stroke="#000" stroke-width="1.7"/>
<text x="285.20" y="485.30" font-family='"Liberation Serif", "DejaVu Serif", serif' font-size="12.75" fill="#000" stroke="#000" stroke-width="0.15">D group</text>
</g>
<g id="panel-f">
<text x="349.8" y="404.0" font-family='"Liberation Sans", "DejaVu Sans", sans-serif' font-weight="bold" font-size="19.3" fill="#000" stroke="#000" stroke-width="0.15">f</text>
<line x1="413.10" y1="487.40" x2="413.10" y2="489.30" stroke="#000" stroke-width="1.5"/>
<line x1="403.20" y1="487.40" x2="423.00" y2="487.40" stroke="#000" stroke-width="1.5"/>
<rect x="394.50" y="489.30" width="37.20" height="88.10" fill="#ffffff" stroke="#000" stroke-width="1.5"/>
<line x1="457.05" y1="453.90" x2="457.05" y2="455.40" stroke="#000" stroke-width="1.5"/>
<line x1="447.15" y1="453.90" x2="466.95" y2="453.90" stroke="#000" stroke-width="1.5"/>
<rect x="439.00" y="455.40" width="36.10" height="122.00" fill="#d2d2d2" stroke="#000" stroke-width="1.5"/>
<line x1="501.05" y1="470.10" x2="501.05" y2="473.20" stroke="#000" stroke-width="1.5"/>
<line x1="491.15" y1="470.10" x2="510.95" y2="470.10" stroke="#000" stroke-width="1.5"/>
<rect x="483.40" y="473.20" width="35.30" height="104.20" fill="#a0a0a0" stroke="#000" stroke-width="1.5"/>
<line x1="544.75" y1="458.90" x2="544.75" y2="460.10" stroke="#000" stroke-width="1.5"/>
<line x1="534.85" y1="458.90" x2="554.65" y2="458.90" stroke="#000" stroke-width="1.5"/>
<rect x="526.50" y="460.10" width="36.50" height="117.30" fill="#636363" stroke="#000" stroke-width="1.5"/>
<line x1="588.55" y1="471.00" x2="588.55" y2="472.70" stroke="#000" stroke-width="1.5"/>
<line x1="578.65" y1="471.00" x2="598.45" y2="471.00" stroke="#000" stroke-width="1.5"/>
<rect x="570.70" y="472.70" width="35.70" height="104.70" fill="#000000" stroke="#000" stroke-width="1.5"/>
<line x1="391.30" y1="432.60" x2="391.30" y2="578.10" stroke="#000" stroke-width="1.6"/>
<line x1="386.60" y1="577.40" x2="610.90" y2="577.40" stroke="#000" stroke-width="1.4"/>
<text transform="translate(384.40,581.29) scale(1.03,1)" text-anchor="end" font-family='"Liberation Serif", "DejaVu Serif", serif' font-weight="bold" font-size="11.8" fill="#000" stroke="#000" stroke-width="0.42">0</text>
<line x1="386.50" y1="529.40" x2="391.30" y2="529.40" stroke="#000" stroke-width="1.75"/>
<text transform="translate(384.40,533.29) scale(1.03,1)" text-anchor="end" font-family='"Liberation Serif", "DejaVu Serif", serif' font-weight="bold" font-size="11.8" fill="#000" stroke="#000" stroke-width="0.42">50</text>
<line x1="386.50" y1="481.40" x2="391.30" y2="481.40" stroke="#000" stroke-width="1.75"/>
<text transform="translate(384.40,485.29) scale(1.03,1)" text-anchor="end" font-family='"Liberation Serif", "DejaVu Serif", serif' font-weight="bold" font-size="11.8" fill="#000" stroke="#000" stroke-width="0.42">100</text>
<line x1="386.50" y1="433.40" x2="391.30" y2="433.40" stroke="#000" stroke-width="1.75"/>
<text transform="translate(384.40,437.29) scale(1.03,1)" text-anchor="end" font-family='"Liberation Serif", "DejaVu Serif", serif' font-weight="bold" font-size="11.8" fill="#000" stroke="#000" stroke-width="0.42">150</text>
<line x1="413.00" y1="577.40" x2="413.00" y2="582.60" stroke="#000" stroke-width="1.3"/>
<line x1="456.80" y1="577.40" x2="456.80" y2="582.60" stroke="#000" stroke-width="1.3"/>
<line x1="501.00" y1="577.40" x2="501.00" y2="582.60" stroke="#000" stroke-width="1.3"/>
<line x1="544.70" y1="577.40" x2="544.70" y2="582.60" stroke="#000" stroke-width="1.3"/>
<line x1="588.50" y1="577.40" x2="588.50" y2="582.60" stroke="#000" stroke-width="1.3"/>
<text transform="translate(361,503.2) rotate(-90) scale(0.98,1)" text-anchor="middle" font-family='"Liberation Serif", "DejaVu Serif", serif' font-weight="bold" font-size="12.2" fill="#000" stroke="#000" stroke-width="0.2">IL-17(pg/mL)</text>
<line x1="409.30" y1="424.60" x2="541.80" y2="424.60" stroke="#000" stroke-width="1.5"/>
<line x1="409.30" y1="421.60" x2="409.30" y2="427.60" stroke="#000" stroke-width="1.5"/>
<line x1="541.80" y1="421.60" x2="541.80" y2="427.60" stroke="#000" stroke-width="1.5"/>
<text x="475.30" y="428.25" text-anchor="middle" font-family='"Liberation Sans", "DejaVu Sans", sans-serif' font-size="15" letter-spacing="1.95" fill="#333" stroke="#333" stroke-width="0.22">***</text>
<line x1="410.00" y1="434.60" x2="455.60" y2="434.60" stroke="#000" stroke-width="1.5"/>
<line x1="410.00" y1="431.60" x2="410.00" y2="437.60" stroke="#000" stroke-width="1.5"/>
<line x1="455.60" y1="431.60" x2="455.60" y2="437.60" stroke="#000" stroke-width="1.5"/>
<text x="435.10" y="437.65" text-anchor="middle" font-family='"Liberation Sans", "DejaVu Sans", sans-serif' font-size="15" letter-spacing="1.95" fill="#333" stroke="#333" stroke-width="0.22">***</text>
<line x1="457.70" y1="442.90" x2="500.00" y2="442.90" stroke="#000" stroke-width="1.5"/>
<line x1="457.70" y1="439.90" x2="457.70" y2="445.90" stroke="#000" stroke-width="1.5"/>
<line x1="500.00" y1="439.90" x2="500.00" y2="445.90" stroke="#000" stroke-width="1.5"/>
<text x="480.20" y="446.40" text-anchor="middle" font-family='"Liberation Sans", "DejaVu Sans", sans-serif' font-size="15" letter-spacing="1.95" fill="#333" stroke="#333" stroke-width="0.22">***</text>
<line x1="502.00" y1="451.50" x2="543.30" y2="451.50" stroke="#000" stroke-width="1.5"/>
<line x1="502.00" y1="448.50" x2="502.00" y2="454.50" stroke="#000" stroke-width="1.5"/>
<line x1="543.30" y1="448.50" x2="543.30" y2="454.50" stroke="#000" stroke-width="1.5"/>
<text x="521.50" y="454.70" text-anchor="middle" font-family='"Liberation Sans", "DejaVu Sans", sans-serif' font-size="15" letter-spacing="1.95" fill="#333" stroke="#333" stroke-width="0.22">***</text>
<rect x="613.35" y="423.60" width="15.80" height="7.90" rx="0.6" fill="#ffffff" stroke="#000" stroke-width="1.7"/>
<text x="637.30" y="431.60" font-family='"Liberation Serif", "DejaVu Serif", serif' font-size="12.5" fill="#000" stroke="#000" stroke-width="0.15">C group</text>
<rect x="613.35" y="440.20" width="15.80" height="7.90" rx="0.6" fill="#d2d2d2" stroke="#000" stroke-width="1.7"/>
<text x="637.30" y="448.20" font-family='"Liberation Serif", "DejaVu Serif", serif' font-size="12.5" fill="#000" stroke="#000" stroke-width="0.15">M group</text>
<rect x="613.35" y="456.80" width="15.80" height="7.90" rx="0.6" fill="#a0a0a0" stroke="#000" stroke-width="1.7"/>
<text x="637.30" y="464.80" font-family='"Liberation Serif", "DejaVu Serif", serif' font-size="12.5" fill="#000" stroke="#000" stroke-width="0.15">T group</text>
<rect x="613.35" y="473.50" width="15.80" height="7.90" rx="0.6" fill="#636363" stroke="#000" stroke-width="1.7"/>
<text x="637.30" y="481.50" font-family='"Liberation Serif", "DejaVu Serif", serif' font-size="12.5" fill="#000" stroke="#000" stroke-width="0.15">L group</text>
<rect x="613.35" y="490.60" width="15.80" height="7.90" rx="0.6" fill="#000000" stroke="#000" stroke-width="1.7"/>
<text x="637.30" y="498.60" font-family='"Liberation Serif", "DejaVu Serif", serif' font-size="12.5" fill="#000" stroke="#000" stroke-width="0.15">D group</text>
</g>
</svg>
</body>
</html>
